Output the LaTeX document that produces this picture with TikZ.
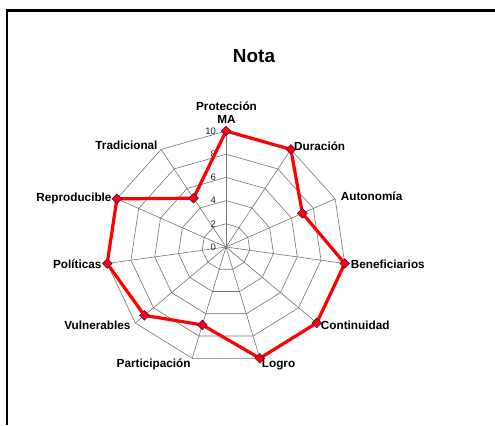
\documentclass[tikz,border=0pt]{standalone}
\usepackage{fontspec}
\setmainfont{Liberation Sans}
\usetikzlibrary{shapes.geometric}
\begin{document}
\begin{tikzpicture}[x=1bp,y=-1bp,
  grid/.style={draw=black!55, line width=0.6bp},
  series/.style={draw=red, line width=3.2bp, line join=round},
  marker/.style={diamond, fill=red, draw=blue!60!black, line width=0.4bp, minimum size=10bp, inner sep=0pt},
  axlabel/.style={font=\bfseries\fontsize{11.8}{13}\selectfont, inner sep=0pt},
  ticklabel/.style={font=\fontsize{9.5}{10}\selectfont, text=black!85, anchor=east, inner sep=0pt},
  titlestyle/.style={font=\bfseries\fontsize{19}{22}\selectfont, inner sep=0pt, anchor=base}]
\useasboundingbox (0,0) rectangle (495,425);
% frame
\draw[line width=2.5bp] (7,425) -- (7,10.5) -- (495,10.5);
% title
\node[titlestyle] (title) at (254,62.7) {Nota};
% centre and axis ends
\coordinate (c) at (226,247);
\foreach \i in {0,...,10} {
  \coordinate (e\i) at ({226+120*sin(\i*360/11)},{247-116*cos(\i*360/11)});
}
% rings
\foreach \r in {2,4,6,8,10} {
  \draw[grid] (226,{247-11.6*\r})
    \foreach \i in {1,...,10} { -- ({226+12*\r*sin(\i*360/11)},{247-11.6*\r*cos(\i*360/11)}) } -- cycle;
}
% spokes
\foreach \i in {0,...,10} { \draw[grid] (c) -- (e\i); }
% tick labels
\foreach \v in {0,2,4,6,8,10} {
  \node[ticklabel] (t\v) at (216,{247-11.6*\v}) {\v};
}
% data
\foreach \v [count=\i from 0] in {10,10,7,10,10,10,7,9,10,10,5} {
  \coordinate (p\i) at ({226+12*\v*sin(\i*360/11)},{247-11.6*\v*cos(\i*360/11)});
}
\draw[series] (p0) \foreach \i in {1,...,10} { -- (p\i) } -- cycle;
\foreach \i in {0,...,10} { \node[marker] (m\i) at (p\i) {}; }
% axis labels
\node[axlabel, align=center, anchor=south] (l0) at (226.5,123.5) {Protección\\MA};
\node[axlabel, anchor=base west] (l1) at (294,150.3) {Duración};
\node[axlabel, anchor=base west] (l2) at (340.7,200.3) {Autonomía};
\node[axlabel, anchor=base west] (l3) at (350.7,268.6) {Beneficiarios};
\node[axlabel, anchor=base west] (l4) at (320.7,329.3) {Continuidad};
\node[axlabel, anchor=base west] (l5) at (261.7,367.6) {Logro};
\node[axlabel, anchor=base east] (l6) at (190.7,367.6) {Participación};
\node[axlabel, anchor=base east] (l7) at (130.7,329.3) {Vulnerables};
\node[axlabel, anchor=base east] (l8) at (101.7,268.3) {Políticas};
\node[axlabel, anchor=base east] (l9) at (111.7,201) {Reproducible};
\node[axlabel, anchor=base east] (l10) at (157.7,149.3) {Tradicional};
\end{tikzpicture}
\end{document}
